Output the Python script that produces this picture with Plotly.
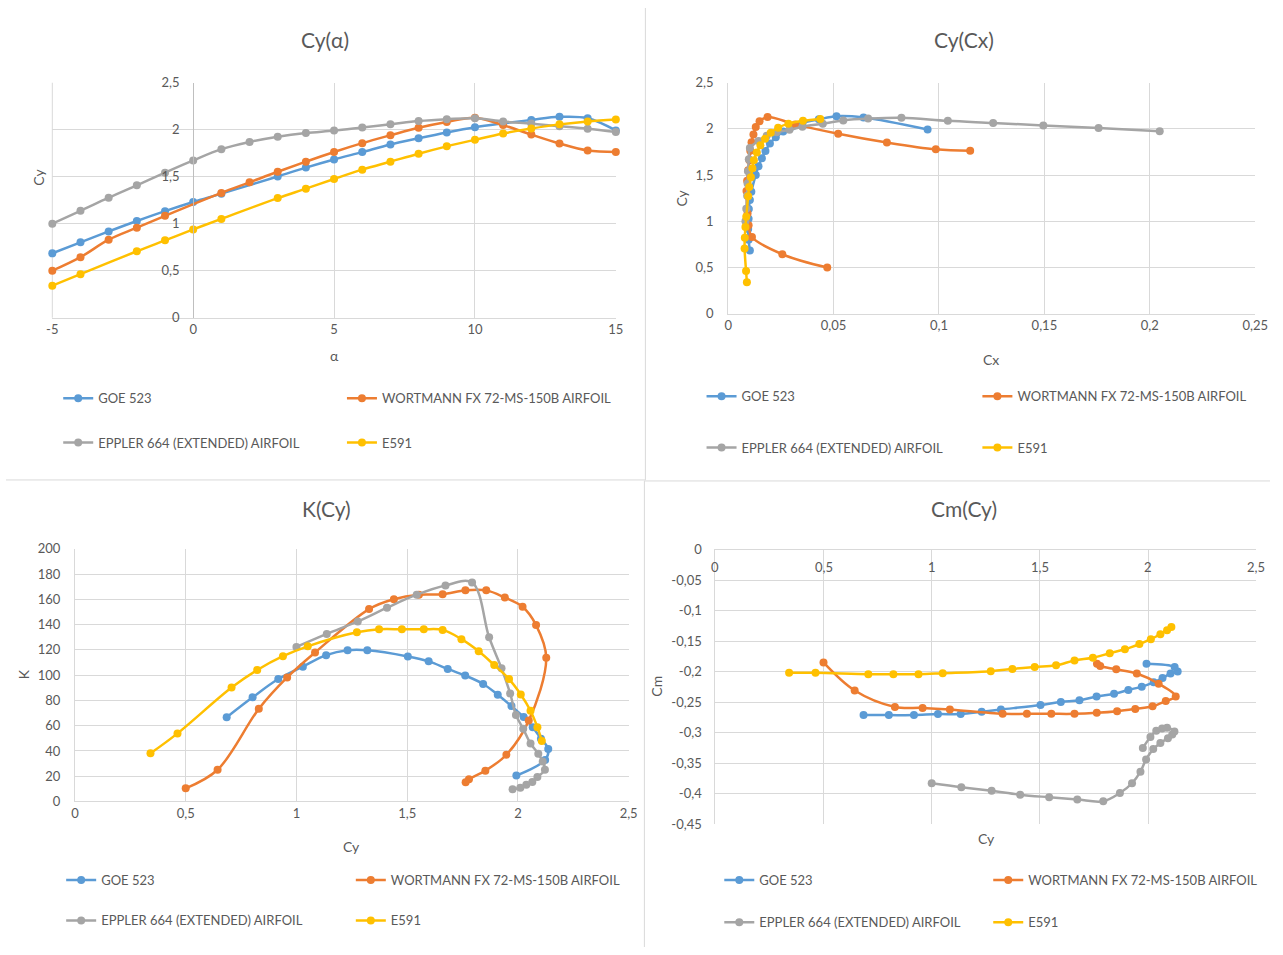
import plotly.graph_objects as go

# ---------------- data ----------------
SERIES = ["GOE 523", "WORTMANN FX 72-MS-150B AIRFOIL", "EPPLER 664 (EXTENDED) AIRFOIL", "E591"]
COLORS = ["#5B9BD5", "#ED7D31", "#A5A5A5", "#FFC000"]

alpha_goe = [-5, -4, -3, -2, -1, 0, 1, 3, 4, 5, 6, 7, 8, 9, 10, 11, 12, 13, 14, 15]
cy_goe = [0.685, 0.802, 0.918, 1.029, 1.134, 1.231, 1.32, 1.503, 1.597, 1.683, 1.762, 1.843, 1.909, 1.971, 2.026, 2.067, 2.104, 2.137, 2.123, 1.993]
cx_goe = [0.0103, 0.0097, 0.0095, 0.0097, 0.0098, 0.0103, 0.011, 0.0131, 0.0144, 0.016, 0.0177, 0.0198, 0.0226, 0.0261, 0.0304, 0.0353, 0.043, 0.0514, 0.0642, 0.0946]
k_goe = [66.6, 82.4, 96.9, 106.7, 115.8, 119.7, 119.7, 114.8, 110.9, 104.9, 99.7, 93.0, 84.5, 75.5, 66.8, 58.8, 49.7, 41.5, 32.9, 20.5]
cm_goe = [-0.2712, -0.2712, -0.2712, -0.2696, -0.2696, -0.2658, -0.2621, -0.2546, -0.2497, -0.247, -0.2406, -0.2363, -0.2299, -0.2245, -0.2175, -0.2105, -0.203, -0.1998, -0.1923, -0.1869]

alpha_wort = [-5, -4, -3, -2, -1, 1, 2, 3, 4, 5, 6, 7, 8, 9, 10, 11, 12, 13, 14, 15]
cy_wort = [0.50, 0.644, 0.83, 0.958, 1.084, 1.328, 1.44, 1.553, 1.66, 1.763, 1.857, 1.941, 2.021, 2.082, 2.128, 2.049, 1.948, 1.853, 1.779, 1.764]
cx_wort = [0.047, 0.0257, 0.0113, 0.0097, 0.0092, 0.0087, 0.009, 0.0095, 0.0101, 0.0105, 0.0111, 0.012, 0.0131, 0.0149, 0.0187, 0.0318, 0.0522, 0.0753, 0.0985, 0.1148]
k_wort = [10.4, 25.1, 73.3, 98.2, 117.9, 152.3, 160.1, 163.7, 164.0, 167.1, 167.1, 161.4, 154.1, 139.6, 113.7, 64.0, 37.0, 24.4, 17.6, 15.3]
cm_wort = [-0.1848, -0.2309, -0.2578, -0.2594, -0.2621, -0.2691, -0.2691, -0.2691, -0.2691, -0.2675, -0.2648, -0.261, -0.2567, -0.2481, -0.2406, -0.2197, -0.203, -0.196, -0.1907, -0.1869]

alpha_epp = [-5, -4, -3, -2, -1, 0, 1, 2, 3, 4, 5, 6, 7, 8, 9, 10, 11, 12, 13, 14, 15]
cy_epp = [1.0, 1.137, 1.277, 1.409, 1.543, 1.673, 1.793, 1.87, 1.926, 1.965, 1.991, 2.024, 2.057, 2.092, 2.112, 2.122, 2.088, 2.065, 2.038, 2.011, 1.976]
cx_epp = [0.0082, 0.0086, 0.009, 0.0092, 0.0094, 0.0098, 0.0103, 0.0144, 0.0183, 0.023, 0.0291, 0.0352, 0.0449, 0.0546, 0.0664, 0.0822, 0.1042, 0.1257, 0.1495, 0.1757, 0.2047]
k_epp = [122.3, 132.6, 142.5, 153.4, 163.7, 171.0, 173.3, 130.0, 105.4, 85.5, 68.4, 57.5, 45.9, 37.8, 31.6, 25.1, 19.4, 15.5, 13.2, 10.9, 9.6]
cm_epp = [-0.3829, -0.3894, -0.3953, -0.4017, -0.406, -0.4098, -0.4125, -0.399, -0.383, -0.364, -0.344, -0.327, -0.317, -0.309, -0.303, -0.298, -0.292, -0.293, -0.297, -0.307, -0.325]

alpha_e591 = [-5, -4, -2, -1, 0, 1, 3, 4, 5, 6, 7, 8, 9, 10, 11, 12, 13, 14, 15]
cy_e591 = [0.341, 0.463, 0.707, 0.823, 0.939, 1.051, 1.273, 1.373, 1.476, 1.575, 1.66, 1.745, 1.823, 1.893, 1.96, 2.013, 2.057, 2.088, 2.108]
cx_e591 = [0.0089, 0.0085, 0.0078, 0.0079, 0.0082, 0.0086, 0.0095, 0.01, 0.0108, 0.0115, 0.0122, 0.0136, 0.0153, 0.0175, 0.0202, 0.0237, 0.0286, 0.0355, 0.0437]
k_e591 = [38.1, 53.9, 90.2, 104.1, 115.0, 122.8, 133.9, 136.3, 136.3, 136.3, 135.8, 128.5, 118.9, 108.0, 96.9, 84.7, 71.8, 58.8, 47.9]
cm_e591 = [-0.2019, -0.2019, -0.204, -0.204, -0.204, -0.2025, -0.1992, -0.1955, -0.1923, -0.1896, -0.1815, -0.1772, -0.1697, -0.1633, -0.1547, -0.1466, -0.1386, -0.1321, -0.1267]

alpha_ticks = [-5, 0, 5, 10, 15]
alpha_ticktext = ["-5", "0", "5", "10", "15"]
cm_ticks = [0, -0.05, -0.1, -0.15, -0.2, -0.25, -0.3, -0.35, -0.4, -0.45]
cm_ticktext = ["0", "-0,05", "-0,1", "-0,15", "-0,2", "-0,25", "-0,3", "-0,35", "-0,4", "-0,45"]
cy_ticks = [0, 0.5, 1, 1.5, 2, 2.5]
cy_ticktext = ["0", "0,5", "1", "1,5", "2", "2,5"]

ALPHAS = [alpha_goe, alpha_wort, alpha_epp, alpha_e591]
CYS = [cy_goe, cy_wort, cy_epp, cy_e591]
CXS = [cx_goe, cx_wort, cx_epp, cx_e591]
KS = [k_goe, k_wort, k_epp, k_e591]
CMS = [cm_goe, cm_wort, cm_epp, cm_e591]

# ---------------- layout helpers ----------------
W, H = 1283, 955
FONT = "Lato, Open Sans, sans-serif"
TXT = "#595959"
GRID = "#D9D9D9"
AXLINE = "#BFBFBF"
TICK_SIZE = 13
LEG_SIZE = 13
TITLE_SIZE = 21
AXTITLE_SIZE = 14


def px(x):
    return x / W


def py(y):
    return 1 - y / H


fig = go.Figure()

charts = [
    ("x", "y", ALPHAS, CYS),
    ("x2", "y2", CXS, CYS),
    ("x3", "y3", CYS, KS),
    ("x4", "y4", CYS, CMS),
]

legend_pos = [
    [(95, 397), (383, 397), (95, 442), (383, 442)],
    [(748, 395), (1028, 395), (748, 447), (1028, 447)],
    [(98, 887), (392, 887), (98, 928), (392, 928)],
    [(766, 887), (1039, 887), (766, 930), (1039, 930)],
]

legend_layouts = {}
li = 0
for ci, (xa, ya, xs, ys) in enumerate(charts):
    for si in range(4):
        li += 1
        lname = "legend" if li == 1 else f"legend{li}"
        fig.add_trace(go.Scatter(
            x=xs[si], y=ys[si], name=SERIES[si],
            mode="lines+markers",
            line=dict(color=COLORS[si], width=2.5, shape="spline", smoothing=1),
            marker=dict(color=COLORS[si], size=8, line=dict(width=0)),
            xaxis=xa, yaxis=ya, legend=lname, cliponaxis=False,
        ))
        tx, ty = legend_pos[ci][si]
        legend_layouts[lname] = dict(
            x=px(tx - 42), y=py(ty), xanchor="left", yanchor="middle",
            bgcolor="rgba(0,0,0,0)", borderwidth=0,
            font=dict(family=FONT, size=LEG_SIZE, color=TXT),
            itemwidth=30,
        )

axis_common = dict(
    showgrid=True, gridcolor=GRID, gridwidth=1, zeroline=False,
    showline=False, ticks="", tickfont=dict(family=FONT, size=TICK_SIZE, color=TXT),
    fixedrange=True,
)

fig.update_layout(
    width=W, height=H, margin=dict(l=0, r=0, t=0, b=0),
    paper_bgcolor="white", plot_bgcolor="white",
    separators=", ",
    font=dict(family=FONT, color=TXT),
    showlegend=True,
    # chart 1: Cy(alpha)
    xaxis=dict(axis_common, domain=[px(47), px(619)], range=[-5, 15],
               tickvals=alpha_ticks, ticktext=alpha_ticktext, anchor="y",
               showline=True, linecolor=GRID),
    yaxis=dict(axis_common, domain=[py(315), py(76)], range=[0, 2.5], dtick=0.5,
               anchor="free", position=px(190), showline=True, linecolor=AXLINE,
               ticklabelstandoff=11),
    # chart 2: Cy(Cx)
    xaxis2=dict(axis_common, domain=[px(733), px(1268)], range=[0, 0.25], dtick=0.05,
                anchor="y2", showline=True, linecolor=GRID),
    yaxis2=dict(axis_common, domain=[py(311), py(76)], range=[0, 2.5], dtick=0.5,
                anchor="x2", showline=True, linecolor=GRID, ticklabelstandoff=11),
    # chart 3: K(Cy)
    xaxis3=dict(axis_common, domain=[px(70), px(632)], range=[0, 2.5], dtick=0.5,
                anchor="y3", showline=True, linecolor=GRID),
    yaxis3=dict(axis_common, domain=[py(807), py(550)], range=[0, 200], dtick=20,
                anchor="x3", showline=True, linecolor=GRID, ticklabelstandoff=11),
    # chart 4: Cm(Cy)  (x axis crosses at Cm = 0, i.e. on top)
    xaxis4=dict(axis_common, domain=[px(720), px(1269)], range=[0, 2.5],
                tickvals=cy_ticks, showticklabels=False,
                anchor="y4", side="top", showline=True, linecolor=GRID),
    yaxis4=dict(axis_common, domain=[py(830), py(551)], range=[-0.45, 0],
                tickvals=cm_ticks, ticktext=cm_ticktext, anchor="x4",
                showline=True, linecolor=GRID, ticklabelstandoff=10),
    **legend_layouts,
)

ann = []
# chart 4 horizontal-axis labels sit just below the top axis line
for v, t in zip(cy_ticks, cy_ticktext):
    ann.append(dict(text=t, x=v, y=py(569), xref="x4", yref="paper",
                    showarrow=False, xanchor="center", yanchor="middle",
                    font=dict(family=FONT, size=TICK_SIZE, color=TXT)))
for text, x, y in [("Cy(α)", 324, 32), ("Cy(Cx)", 972, 32),
                   ("K(Cy)", 325, 509), ("Cm(Cy)", 972, 509)]:
    ann.append(dict(text=text, x=px(x), y=py(y), xref="paper", yref="paper",
                    showarrow=False, xanchor="center", yanchor="middle",
                    font=dict(family=FONT, size=TITLE_SIZE, color=TXT)))
for text, x, y, rot in [("α", 333, 353, 0), ("Cy", 33, 172, -90),
                        ("Cx", 1000, 357, 0), ("Cy", 686, 193, -90),
                        ("Cy", 351, 853, 0), ("K", 18, 678, -90),
                        ("Cy", 995, 845, 0), ("Cm", 660, 690, -90)]:
    ann.append(dict(text=text, x=px(x), y=py(y), xref="paper", yref="paper",
                    showarrow=False, xanchor="center", yanchor="middle", textangle=rot,
                    font=dict(family=FONT, size=AXTITLE_SIZE, color=TXT)))
fig.update_layout(annotations=ann)

shapes = [
    dict(type="line", xref="paper", yref="paper", x0=px(649), x1=px(649), y0=py(0), y1=py(480),
         line=dict(color=GRID, width=1)),
    dict(type="line", xref="paper", yref="paper", x0=px(648), x1=px(648), y0=py(481), y1=py(955),
         line=dict(color=GRID, width=1)),
    dict(type="line", xref="paper", yref="paper", x0=0, x1=px(649), y0=py(480), y1=py(480),
         line=dict(color=GRID, width=1)),
    dict(type="line", xref="paper", yref="paper", x0=px(648), x1=1, y0=py(481), y1=py(481),
         line=dict(color=GRID, width=1)),
    # left edge frame line of chart 1 plot area (range edge gridline)
    dict(type="line", xref="x domain", yref="y domain", x0=0, x1=0, y0=0, y1=1,
         line=dict(color=GRID, width=1), layer="below"),
]
fig.update_layout(shapes=shapes)

fig.write_html(
    "out.html",
    config={"displayModeBar": False},
    post_script="document.body.style.margin='0';document.body.style.overflow='hidden';",
)
